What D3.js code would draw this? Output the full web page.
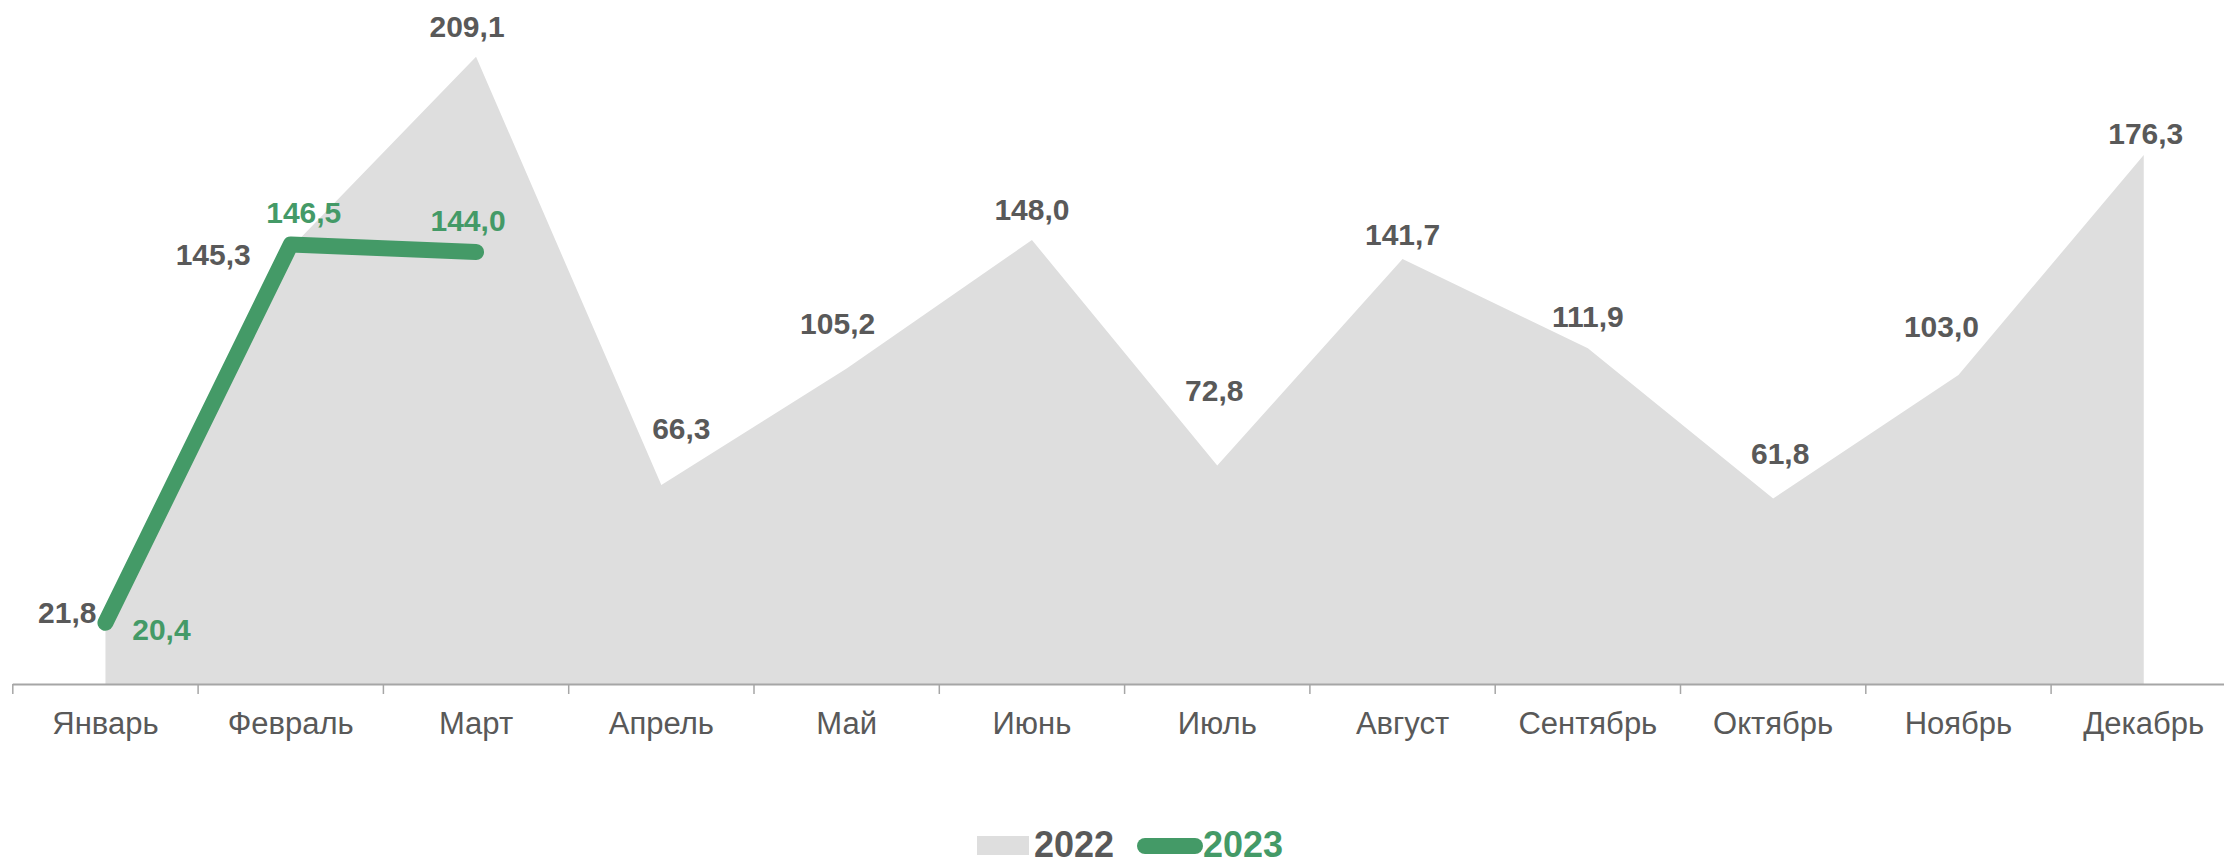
<!DOCTYPE html>
<html>
<head>
<meta charset="utf-8">
<script src="https://cdn.jsdelivr.net/npm/d3@7"></script>
<style>
  body { margin: 0; background: #fff; }
  svg { display: block; font-family: "Liberation Sans", Arial, sans-serif; }
</style>
</head>
<body>
<svg width="2224" height="860"></svg>
<script>
var months = ["Январь","Февраль","Март","Апрель","Май","Июнь","Июль","Август","Сентябрь","Октябрь","Ноябрь","Декабрь"];
var values2022 = [21.8, 145.3, 209.1, 66.3, 105.2, 148.0, 72.8, 141.7, 111.9, 61.8, 103.0, 176.3];
var values2023 = [20.4, 146.5, 144.0];
var seriesNames = ["2022", "2023"];

// label placement relative to the point: [anchor, dx, dy]
var labelPos2022 = [["end",-9,4],["end",-40,17],["middle",-9,-20],["middle",20,-46],["middle",-9,-34],["middle",0,-20],
                    ["middle",-3,-65],["middle",0,-14],["middle",0,-21],["middle",7,-35],["middle",-17,-38],["middle",2,-11]];
var labelPos2023 = [["middle",56,17],["middle",13,-22],["middle",-8,-21]];

var grey = "#dedede", green = "#449a67", textCol = "#595959";

var svg = d3.select("svg");
var base = 684;

var x = d3.scaleBand().domain(months).range([12.8, 12.8 + 12 * 185.3]);
var y = d3.scaleLinear().domain([0, 250]).range([base, base - 750]);
var cx = function(i) { return x(months[i]) + x.bandwidth() / 2; };
var fmt = function(v) { return v.toFixed(1).replace(".", ","); };

// 2022 area
var area = d3.area()
    .x(function(d, i) { return cx(i); })
    .y0(base)
    .y1(function(d) { return y(d); });

svg.append("path")
    .datum(values2022)
    .attr("d", area)
    .attr("fill", grey);

// axis
var axis = svg.append("g").attr("class", "axis");
axis.append("line")
    .attr("x1", x.range()[0]).attr("x2", x.range()[1])
    .attr("y1", base + 0.5).attr("y2", base + 0.5)
    .attr("stroke", "#a6a6a6").attr("stroke-width", 2);
axis.selectAll("line.tick")
    .data(months)
    .enter().append("line")
    .attr("class", "tick")
    .attr("x1", function(d) { return x(d); })
    .attr("x2", function(d) { return x(d); })
    .attr("y1", base).attr("y2", base + 10)
    .attr("stroke", "#a6a6a6").attr("stroke-width", 1.5);
axis.selectAll("text")
    .data(months)
    .enter().append("text")
    .attr("x", function(d) { return x(d) + x.bandwidth() / 2; })
    .attr("y", 734)
    .attr("text-anchor", "middle")
    .attr("font-size", 31)
    .attr("fill", textCol)
    .text(function(d) { return d; });

// 2023 line
var line = d3.line()
    .x(function(d, i) { return cx(i); })
    .y(function(d) { return y(d); });

svg.append("path")
    .datum(values2023)
    .attr("d", line)
    .attr("fill", "none")
    .attr("stroke", green)
    .attr("stroke-width", 16)
    .attr("stroke-linecap", "round")
    .attr("stroke-linejoin", "round");

// data labels
svg.append("g").selectAll("text")
    .data(values2022)
    .enter().append("text")
    .attr("x", function(d, i) { return cx(i) + labelPos2022[i][1]; })
    .attr("y", function(d, i) { return y(d) + labelPos2022[i][2]; })
    .attr("text-anchor", function(d, i) { return labelPos2022[i][0]; })
    .attr("font-size", 30)
    .attr("font-weight", "bold")
    .attr("fill", textCol)
    .text(fmt);

svg.append("g").selectAll("text")
    .data(values2023)
    .enter().append("text")
    .attr("x", function(d, i) { return cx(i) + labelPos2023[i][1]; })
    .attr("y", function(d, i) { return y(d) + labelPos2023[i][2]; })
    .attr("text-anchor", function(d, i) { return labelPos2023[i][0]; })
    .attr("font-size", 30)
    .attr("font-weight", "bold")
    .attr("fill", green)
    .text(fmt);

// legend
var legend = svg.append("g");
legend.append("rect")
    .attr("x", 977).attr("y", 836).attr("width", 52).attr("height", 19)
    .attr("fill", grey);
legend.append("text")
    .attr("x", 1034).attr("y", 857)
    .attr("font-size", 36).attr("font-weight", "bold")
    .attr("fill", textCol)
    .text(seriesNames[0]);
legend.append("line")
    .attr("x1", 1145).attr("x2", 1195)
    .attr("y1", 846).attr("y2", 846)
    .attr("stroke", green).attr("stroke-width", 16)
    .attr("stroke-linecap", "round");
legend.append("text")
    .attr("x", 1203).attr("y", 857)
    .attr("font-size", 36).attr("font-weight", "bold")
    .attr("fill", green)
    .text(seriesNames[1]);
</script>
</body>
</html>
